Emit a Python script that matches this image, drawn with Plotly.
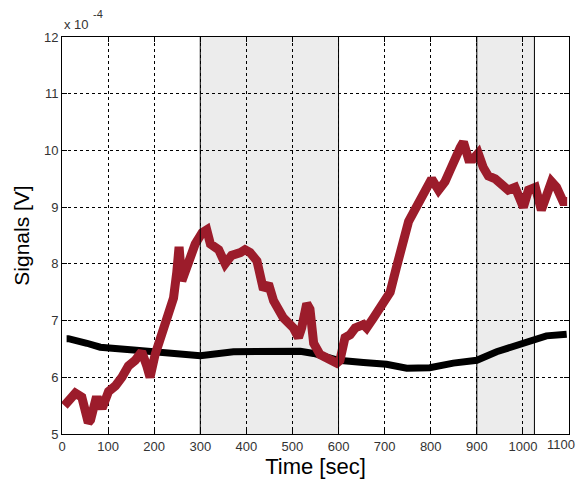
import plotly.graph_objects as go

# Red signal (units of 1e-4 V)
red_t = [5, 12, 18, 29, 43, 52, 57, 62, 73, 79, 87, 101, 116, 130, 144, 159, 173, 184, 191,
         202, 217, 231, 242, 249, 254, 260, 274, 289, 304, 314, 322, 340, 354, 368, 387, 397,
         408, 415, 423, 437, 448, 459, 480, 502, 513, 520, 531, 538, 546, 560, 582, 596, 603,
         614, 625, 636, 654, 661, 676, 690, 704, 712, 726, 740, 752, 762, 777, 791, 802, 817,
         831, 842, 853, 864, 871, 882, 892, 903, 914, 925, 940, 954, 968, 983, 994, 1001, 1012,
         1027, 1040, 1051, 1062, 1073, 1087, 1096]
red_v = [5.5, 5.55, 5.6, 5.72, 5.65, 5.4, 5.2, 5.25, 5.6, 5.6, 5.45, 5.75, 5.85, 6.0, 6.2, 6.3,
         6.45, 6.2, 6.0, 6.4, 6.8, 7.2, 7.4, 7.85, 8.3, 7.7, 8.0, 8.35, 8.55, 8.6, 8.35, 8.25,
         8.0, 8.15, 8.2, 8.25, 8.2, 8.1, 8.05, 7.55, 7.65, 7.35, 7.05, 6.87, 6.7, 6.87, 7.3, 7.2,
         6.6, 6.4, 6.3, 6.25, 6.3, 6.7, 6.75, 6.87, 6.93, 6.87, 7.05, 7.2, 7.4, 7.5, 7.95, 8.4,
         8.75, 8.9, 9.13, 9.3, 9.5, 9.3, 9.45, 9.65, 9.9, 10.05, 10.15, 9.85, 9.85, 9.95, 9.7,
         9.55, 9.5, 9.4, 9.3, 9.35, 9.15, 9.0, 9.3, 9.35, 8.95, 9.25, 9.45, 9.35, 9.1, 9.1]

# Black signal (units of 1e-4 V)
black_t = [10, 14, 54, 83, 155, 228, 271, 300, 372, 444, 517, 546, 600, 654, 704, 748, 798,
           849, 900, 943, 979, 1023, 1051, 1095]
black_v = [6.68, 6.68, 6.6, 6.53, 6.48, 6.42, 6.39, 6.38, 6.45, 6.47, 6.46, 6.42, 6.3, 6.26,
           6.23, 6.16, 6.17, 6.25, 6.3, 6.45, 6.55, 6.66, 6.73, 6.76]

shade_regions = [(300, 600), (900, 1025)]
vlines = [300, 600, 900, 1025]

x_ticks = list(range(0, 1101, 100))
x_ticktext = [str(v) for v in x_ticks[:-1]] + [""]   # last label drawn separately (shifted left)
last_x_label = str(x_ticks[-1])
y_ticks = list(range(5, 13))

fig = go.Figure()
fig.add_trace(go.Scatter(x=black_t, y=black_v, mode="lines",
                         line=dict(color="black", width=7), showlegend=False))
fig.add_trace(go.Scatter(x=red_t, y=red_v, mode="lines",
                         line=dict(color="#9c1c2b", width=9), showlegend=False))

for a, b in shade_regions:
    fig.add_shape(type="rect", xref="x", yref="y", x0=a, x1=b, y0=5, y1=12,
                  fillcolor="#ececec", line=dict(width=0), layer="below")
for v in vlines:
    fig.add_shape(type="line", xref="x", yref="y", x0=v, x1=v, y0=5, y1=12,
                  line=dict(color="black", width=1), layer="above")

# exponent label "x 10^-4"
fig.add_annotation(x=0, y=1, xref="paper", yref="paper", xanchor="left", yanchor="bottom",
                   text="x 10", showarrow=False, yshift=3,
                   font=dict(size=13, color="#333"))
fig.add_annotation(x=0, y=1, xref="paper", yref="paper", xanchor="left", yanchor="top",
                   text="-4", showarrow=False, xshift=29, yshift=31,
                   font=dict(size=11, color="#333"))

# last x tick label, pulled in so it fits like the original
fig.add_annotation(x=x_ticks[-1], y=0, xref="x", yref="paper", xanchor="right", yanchor="top",
                   text=last_x_label, showarrow=False, xshift=8, yshift=-1,
                   font=dict(size=13, color="#333"))

axis_common = dict(showline=True, linecolor="black", linewidth=1, mirror="ticks",
                   ticks="inside", ticklen=5, tickcolor="black",
                   showgrid=True, gridcolor="black", griddash="dot", gridwidth=1,
                   zeroline=False, tickfont=dict(size=13, color="#333"),
                   automargin=False)

fig.update_layout(
    width=576, height=480,
    margin=dict(l=54, r=15, t=29, b=54, autoexpand=False),
    paper_bgcolor="white", plot_bgcolor="white",
    font=dict(family="Liberation Sans, Arial, sans-serif"),
    xaxis=dict(range=[0, 1100], tickvals=x_ticks, ticktext=x_ticktext,
               title=dict(text="Time [sec]", font=dict(size=22, color="black"), standoff=4),
               **axis_common),
    yaxis=dict(range=[5, 12], tickvals=y_ticks,
               title=dict(text="Signals [V]", font=dict(size=21, color="black"), standoff=8),
               **axis_common),
)

fig.write_html("out.html")
